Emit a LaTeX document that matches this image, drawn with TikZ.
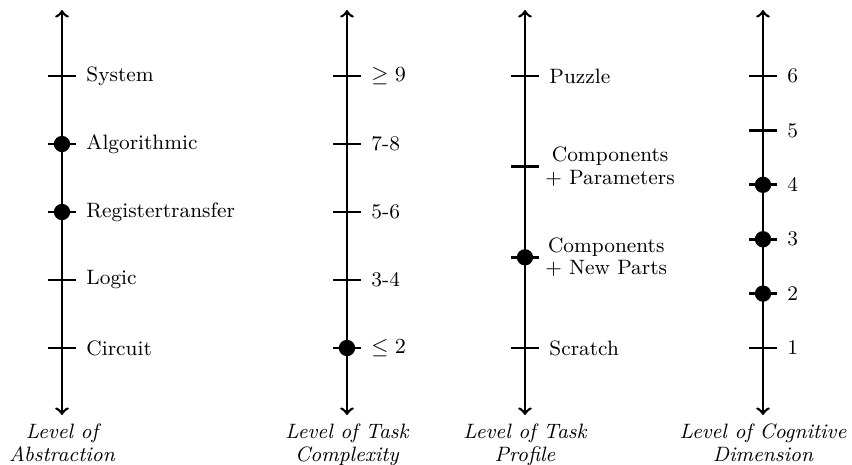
\documentclass[tikz,border=0pt]{standalone}
\begin{document}
\newcommand\lblfont{\fontsize{8.7}{9.3}\selectfont}
\begin{tikzpicture}[x=0.014706cm,y=-0.014706cm,
  axisline/.style={line width=1.1pt,<->},
  tickmark/.style={line width=1.1pt},
  dot/.style={fill=black},
  lab/.style={anchor=west,inner sep=0pt,font=\lblfont,align=center},
  axtitle/.style={anchor=north,inner sep=0pt,font=\lblfont\itshape,align=center}]
\useasboundingbox (0,0) rectangle (852,464);

% axis ends
\coordinate (atop) at (62,10);  \coordinate (abot) at (62,415);
\coordinate (btop) at (347,10); \coordinate (bbot) at (347,415);
\coordinate (ctop) at (525,10); \coordinate (cbot) at (525,415);
\coordinate (dtop) at (763,10); \coordinate (dbot) at (763,415);
\draw[axisline] (abot) -- (atop);
\draw[axisline] (bbot) -- (btop);
\draw[axisline] (cbot) -- (ctop);
\draw[axisline] (dbot) -- (dtop);

% tick positions
\coordinate (a1) at (62,348);  \coordinate (a2) at (62,280);
\coordinate (a3) at (62,212);  \coordinate (a4) at (62,144);
\coordinate (a5) at (62,76);
\coordinate (b1) at (347,348); \coordinate (b2) at (347,280);
\coordinate (b3) at (347,212); \coordinate (b4) at (347,144);
\coordinate (b5) at (347,76);
\coordinate (c1) at (525,348); \coordinate (c2) at (525,257.3);
\coordinate (c3) at (525,166.7); \coordinate (c4) at (525,76);
\coordinate (d1) at (763,348); \coordinate (d2) at (763,293.6);
\coordinate (d3) at (763,239.2); \coordinate (d4) at (763,184.8);
\coordinate (d5) at (763,130.4); \coordinate (d6) at (763,76);

\foreach \p in {a1,a2,a3,a4,a5,b1,b2,b3,b4,b5,c1,c2,c3,c4,d1,d2,d3,d4,d5,d6}
  \draw[tickmark] ([xshift=-0.2cm]\p) -- ([xshift=0.2cm]\p);

% chosen levels
\foreach \p in {a4,a3,b1,c2,d4,d3,d2}
  \fill[dot] (\p) circle (0.12cm);

% level names
\tikzset{near/.style={xshift=0.353cm}}
\node[lab] (la1) at ([near]a1) {Circuit};
\node[lab] (la2) at ([near]a2) {Logic};
\node[lab] (la3) at ([near]a3) {Registertransfer};
\node[lab] (la4) at ([near]a4) {Algorithmic};
\node[lab] (la5) at ([near]a5) {System};
\node[lab] (lb1) at ([near]b1) {$\leq 2$};
\node[lab] (lb2) at ([near]b2) {3-4};
\node[lab] (lb3) at ([near]b3) {5-6};
\node[lab] (lb4) at ([near]b4) {7-8};
\node[lab] (lb5) at ([near]b5) {$\geq 9$};
\node[lab] (lc1) at ([near]c1) {Scratch};
\node[lab] (lc2) at ([xshift=0.294cm]c2) {Components\\+ New Parts};
\node[lab] (lc3) at ([xshift=0.294cm]c3) {Components\\+ Parameters};
\node[lab] (lc4) at ([near]c4) {Puzzle};
\node[lab] (ld1) at ([near]d1) {1};
\node[lab] (ld2) at ([near]d2) {2};
\node[lab] (ld3) at ([near]d3) {3};
\node[lab] (ld4) at ([near]d4) {4};
\node[lab] (ld5) at ([near]d5) {5};
\node[lab] (ld6) at ([near]d6) {6};

% axis titles
\tikzset{under/.style={yshift=-0.13cm}}
\node[axtitle] (ta) at ([under]abot) {Level of\\Abstraction};
\node[axtitle] (tb) at ([under]bbot) {Level of Task\\Complexity};
\node[axtitle] (tc) at ([under]cbot) {Level of Task\\Profile};
\node[axtitle] (td) at ([under]dbot) {Level of Cognitive\\Dimension};
\end{tikzpicture}
\end{document}
